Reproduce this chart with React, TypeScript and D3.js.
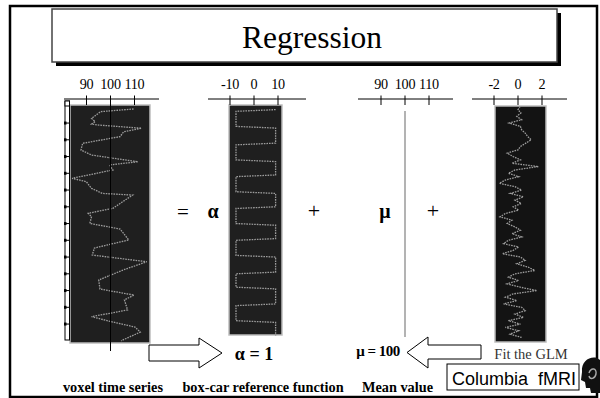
import React from "react";
import * as d3 from "d3";

// ---- data ----
const voxelTicks = [90, 100, 110];
const boxTicks = [-10, 0, 10];
const meanTicks = [90, 100, 110];
const residTicks = [-2, 0, 2];
const rulerTicks = [10, 20, 30, 40, 50, 60, 70, 80, 90, 100, 110, 120, 130];

const voxelTime = [1.6, 3.2, 7.2, 9.2, 10.6, 11.2, 13.1, 15.2, 18.1, 22.1, 26.1, 29.1, 33.1, 35, 38, 43, 45, 49, 52, 53, 60.9, 63.9, 65.9, 69.9, 73.3, 79.8, 84.6, 88.8, 92.8, 97.7, 103.7, 109.1, 112.7, 115.6, 121.6, 125.6, 128.6, 131.8, 134.8, 140];
const voxelValue = [109.6, 95.9, 92.1, 93.6, 92.1, 95.1, 112.9, 105.5, 104, 88.4, 87.7, 92.1, 111.4, 99.6, 101, 84, 89.9, 92.1, 96.6, 109.2, 101, 90.7, 92.1, 91.4, 104, 107.6, 93.3, 92.4, 115.1, 105.3, 95.1, 95.6, 109.8, 105.8, 107.1, 92.1, 100.4, 110.2, 112.4, 104.4];

const boxTime = [2, 3, 12, 13, 22, 23, 32, 33, 41, 42, 51, 52, 60, 61, 70, 71, 79, 80, 89, 90, 99, 100, 108, 109, 118, 119, 128, 129, 137];
const boxValue = [9, -7.5, -7.5, 9, 9, -7.5, -7.5, 9, 9, -7.5, -7.5, 9, 9, -7.5, -7.5, 9, 9, -7.5, -7.5, 9, 9, -7.5, -7.5, 9, 9, -7.5, -7.5, 9, 9];

const meanTime = [2.8, 137.7];
const meanValue = [100, 100];

const residTime = [0, 2, 4, 6, 8, 10, 12, 14, 16, 18, 20, 22, 24, 26, 28, 30, 32, 34, 36, 38, 40, 42, 44, 46, 48, 50, 52, 54, 56, 58, 60, 62, 64, 66, 68, 70, 72, 74, 76, 78, 80, 82, 84, 86, 88, 90, 92, 94, 96, 98, 100, 102, 104, 106, 108, 110, 112, 114, 116, 118, 120, 122, 124, 126, 128, 130, 132, 134, 136, 138];
const residValue = [0.18, 0, 0.24, -0.1, 0.3, -0.74, 0.2, 0.3, 0.6, 0.8, 1.1, 0.65, 0.2, 0, -0.9, -0.4, 0.2, -0.5, 1.7, -0.25, -0.8, 0.05, -1.05, -1.55, -0.25, 0.3, -0.65, 0.45, -0.25, 0.27, -0.4, 0.05, -1.05, -1.5, -0.5, -0.9, -0.25, 0.2, -0.5, 0.3, -0.8, -1.2, 0.05, -0.4, -1.3, 0.2, 0.6, -0.1, 0.84, 1.4, -0.25, -0.8, 0.05, -0.9, 0.2, 1.57, -0.4, -1.05, -0.1, -1.2, 0.3, 0.6, -0.25, 0.45, -0.8, 0.2, -1.05, 0.05, -0.65, 0.3];

const SERIF = "'Liberation Serif', 'Times New Roman', serif";
const SANS = "'Liberation Sans', Arial, sans-serif";

export default function App() {
  const t = d3.scaleLinear().domain([0, 140]).range([106.3, 340.8]);
  const x1 = d3.scaleLinear().domain([90, 110]).range([86.5, 134.5]);
  const x2 = d3.scaleLinear().domain([-10, 10]).range([230, 278]);
  const x3 = d3.scaleLinear().domain([90, 110]).range([381, 429]);
  const x4 = d3.scaleLinear().domain([-2, 2]).range([494, 542]);

  const mk = (xs: d3.ScaleLinear<number, number>, times: number[], vals: number[]) =>
    d3.line<number>().x((_, i) => xs(vals[i])).y((_, i) => t(times[i]))(times.map((d) => d)) || "";

  const axis = (xs: d3.ScaleLinear<number, number>, ticks: number[], x0: number, x1e: number, key: string) => (
    <g key={key}>
      <line x1={x0} x2={x1e} y1={99} y2={99} stroke="#000" strokeWidth={1} />
      {ticks.map((v) => (
        <g key={v}>
          <line x1={xs(v)} x2={xs(v)} y1={95.5} y2={105} stroke="#000" strokeWidth={1} />
          <text x={xs(v)} y={88.5} textAnchor="middle" fontFamily={SERIF} fontSize={14.2} letterSpacing={-0.3} fill="#000">
            {v}
          </text>
        </g>
      ))}
    </g>
  );

  const trace = { fill: "none", stroke: "#9c9c9c", strokeWidth: 1.3, strokeDasharray: "1.6 1" };

  return (
    <svg width={600} height={398} style={{ position: "absolute", left: 0, top: 0, background: "#fff" }}>
      {/* outer frame */}
      <rect x={10} y={6} width={587} height={391} fill="#fff" stroke="#000" strokeWidth={2.5} />
      {/* title box */}
      <rect x={56} y={13} width={505} height={53} fill="#000" />
      <rect x={52} y={9} width={505} height={53} fill="#fff" stroke="#444" strokeWidth={1.5} />
      <text x={312} y={47.5} textAnchor="middle" fontFamily={SERIF} fontSize={31.5} fill="#000">
        Regression
      </text>

      {/* panel 1: voxel time series */}
      <rect x={70} y={105} width={80} height={238} fill="#1f1f1f" stroke="#bdbdbd" strokeWidth={1.5} />
      <rect x={65} y={101} width={4.5} height={239} fill="#fff" stroke="#000" strokeWidth={1} />
      <rect x={65} y={101} width={4.5} height={5} fill="#fff" stroke="#000" strokeWidth={1} />
      {rulerTicks.map((v) => (
        <g key={v}>
          <line x1={65} x2={69.5} y1={t(v)} y2={t(v)} stroke="#000" strokeWidth={1} />
          <rect x={64} y={t(v) - 1.5} width={2.5} height={3} fill="#000" />
        </g>
      ))}
      <path d={mk(x1, voxelTime, voxelValue)} {...trace} />
      <line x1={x1(100)} x2={x1(100)} y1={96} y2={351} stroke="#000" strokeWidth={1} />
      {axis(x1, voxelTicks, 64, 159, "a1")}

      {/* panel 2: box-car */}
      <rect x={229} y={105} width={53} height={230} fill="#1f1f1f" stroke="#bdbdbd" strokeWidth={1.5} />
      <path d={mk(x2, boxTime, boxValue)} {...trace} />
      {axis(x2, boxTicks, 208, 306, "a2")}

      {/* panel 3: mean */}
      <path d={mk(x3, meanTime, meanValue)} fill="none" stroke="#8a8a8a" strokeWidth={1.3} />
      {axis(x3, meanTicks, 358, 453, "a3")}

      {/* panel 4: residuals */}
      <rect x={495} y={106} width={51} height={236} fill="#131313" stroke="#bdbdbd" strokeWidth={1.5} />
      <path d={mk(x4, residTime, residValue)} {...trace} />
      {axis(x4, residTicks, 472, 567, "a4")}

      {/* equation symbols */}
      <text x={183} y={219} textAnchor="middle" fontFamily={SERIF} fontSize={21} fill="#000">=</text>
      <text x={213} y={218} textAnchor="middle" fontFamily={SERIF} fontSize={20} fontWeight="bold" fill="#000">α</text>
      <text x={314} y={218} textAnchor="middle" fontFamily={SERIF} fontSize={22} fill="#000">+</text>
      <text x={385} y={218} textAnchor="middle" fontFamily={SERIF} fontSize={20} fontWeight="bold" fill="#000">μ</text>
      <text x={433} y={218} textAnchor="middle" fontFamily={SERIF} fontSize={22} fill="#000">+</text>

      {/* arrows */}
      <path d="M149,345 L199,345 L199,338 L222,353 L199,368 L199,361 L149,361 Z" fill="#fff" stroke="#000" strokeWidth={1} />
      <path d="M481,345 L428,345 L428,337 L407,352.5 L428,368 L428,359 L481,359 Z" fill="#fff" stroke="#000" strokeWidth={1} />

      <text x={254} y={360} textAnchor="middle" fontFamily={SERIF} fontSize={18} fontWeight="bold" fill="#000">α = 1</text>
      <text x={378} y={356} textAnchor="middle" fontFamily={SERIF} fontSize={15} fontWeight="bold" fill="#000" letterSpacing={-0.5}>μ = 100</text>
      <text x={531} y={359} textAnchor="middle" fontFamily={SERIF} fontSize={14.5} fill="#333">Fit the GLM</text>

      {/* Columbia fMRI box */}
      <rect x={447} y={364} width={132} height={26} fill="#fff" stroke="#000" strokeWidth={1} />
      <text x={514} y={385} textAnchor="middle" fontFamily={SANS} fontSize={18} fill="#000" xmlSpace="preserve">Columbia  fMRI</text>

      {/* logo */}
      <path d="M582,372 C581,361 590,356 597,358 L600,360 L600,393 L591,393 L590,388 L586,388 L585,382 L581,380 Z" fill="#111" />
      <path d="M589,373 C591,367 597,368 596,374 C595,379 590,380 589,376" fill="none" stroke="#aaa" strokeWidth={1.4} />

      {/* bottom labels */}
      <text x={113} y={392} textAnchor="middle" fontFamily={SERIF} fontSize={14.3} fontWeight="bold" fill="#000">voxel time series</text>
      <text x={263} y={392} textAnchor="middle" fontFamily={SERIF} fontSize={14.3} fontWeight="bold" fill="#000">box-car reference function</text>
      <text x={397.5} y={392} textAnchor="middle" fontFamily={SERIF} fontSize={14.3} fontWeight="bold" fill="#000">Mean value</text>
    </svg>
  );
}
